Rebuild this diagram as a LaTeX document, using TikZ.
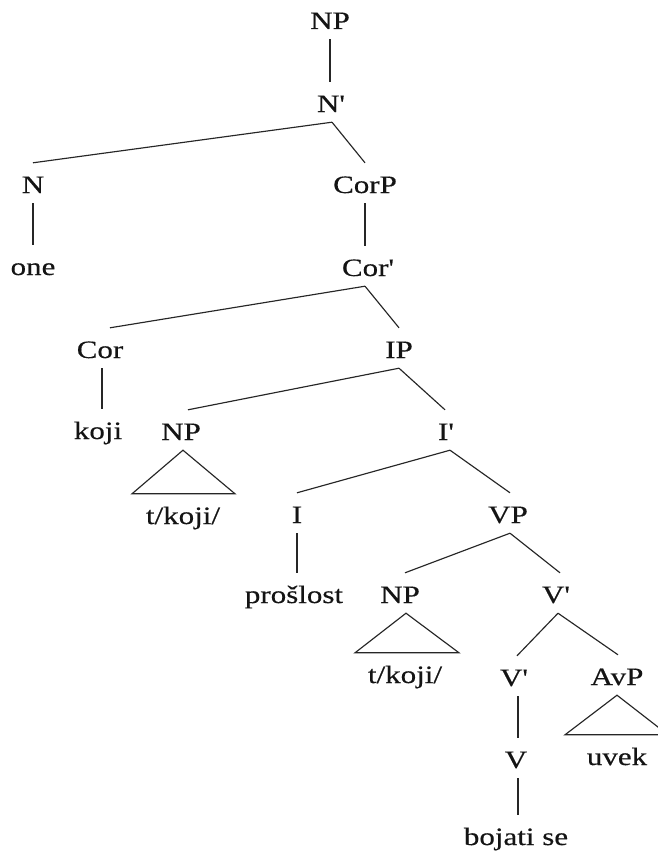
\documentclass[tikz,border=0pt]{standalone}
\usepackage{fontspec}
% no TeX ligature mapping, so ' stays a straight prime
\newfontfamily\treefont{Liberation Serif}[FakeStretch=1.24,FakeBold=0.4]
\begin{document}
\begin{tikzpicture}[x=1pt,y=-1pt,
  lbl/.style={anchor=base, inner sep=0pt, text height=30pt, text depth=10pt,
              font=\treefont\fontsize{25}{28}\selectfont, text=black!92},
  edge/.style={line width=1.15pt, draw=black!85},
  tri/.style={line width=1.15pt, draw=black!85, line join=miter}]
\useasboundingbox (0,0) rectangle (658,859);
\fill[white] (0,0) rectangle (658,859);

% labels: positioned by their baselines
\node[lbl] (np1)  at (330,29)  {NP};
\node[lbl] (nb1)  at (331,112) {N'};
\node[lbl] (n)    at (33,193)  {N};
\node[lbl] (one)  at (33,275)  {one};
\node[lbl] (corp) at (365,193) {CorP};
\node[lbl] (corb) at (368,276) {Cor'};
\node[lbl] (cor)  at (100,358) {Cor};
\node[lbl] (koji) at (98,439)  {koji};
\node[lbl] (ip)   at (399,358) {IP};
\node[lbl] (np2)  at (181,440) {NP};
\node[lbl] (ib)   at (446,440) {I'};
\node[lbl] (tk1)  at (183,524) {t/koji/};
\node[lbl] (i)    at (297,523) {I};
\node[lbl] (vp)   at (508,523) {VP};
\node[lbl] (prs)  at (294,603) {prošlost};
\node[lbl] (np3)  at (400,603) {NP};
\node[lbl] (vb1)  at (556,603) {V'};
\node[lbl] (tk2)  at (405,683) {t/koji/};
\node[lbl] (vb2)  at (514,686) {V'};
\node[lbl] (avp)  at (617,685) {AvP};
\node[lbl] (v)    at (516,768) {V};
\node[lbl] (uvek) at (617,765) {uvek};
\node[lbl] (boj)  at (516,845) {bojati se};

% branches
\draw[edge] (np1.south) -- (np1.south |- nb1.north);
\draw[edge] ([xshift=1pt]nb1.south) -- (n.north);
\draw[edge] ([xshift=1pt]nb1.south) -- (corp.north);
\draw[edge] (n.south) -- (one.north);
\draw[edge] (corp.south) -- ([xshift=-3pt]corb.north);
\draw[edge] ([xshift=-3pt]corb.south) -- ([xshift=10pt]cor.north);
\draw[edge] ([xshift=-3pt]corb.south) -- (ip.north);
\draw[edge] ([xshift=2pt]cor.south) -- ([xshift=4pt]koji.north);
\draw[edge] (ip.south) -- ([xshift=7pt]np2.north);
\draw[edge] (ip.south) -- ([xshift=-1pt]ib.north);
\draw[edge] ([xshift=4pt]ib.south) -- (i.north);
\draw[edge] ([xshift=4pt]ib.south) -- ([xshift=2pt]vp.north);
\draw[edge] (i.south) -- ([xshift=3pt]prs.north);
\draw[edge] ([xshift=2pt]vp.south) -- ([xshift=5pt]np3.north);
\draw[edge] ([xshift=2pt]vp.south) -- ([xshift=4pt]vb1.north);
\draw[edge] ([xshift=2pt]vb1.south) -- ([xshift=3pt]vb2.north);
\draw[edge] ([xshift=2pt]vb1.south) -- ([xshift=1pt]avp.north);
\draw[edge] ([xshift=4pt]vb2.south) -- ([xshift=2pt]v.north);
\draw[edge] ([xshift=2pt]v.south) -- ([xshift=2pt]boj.north);

% triangles over unanalysed constituents
\draw[tri] ([xshift=2pt]np2.south) -- ([xshift=52pt]tk1.north) -- ([xshift=-51pt]tk1.north) -- cycle;
\draw[tri] ([xshift=6pt]np3.south) -- ([xshift=54pt]tk2.north) -- ([xshift=-50pt]tk2.north) -- cycle;
\draw[tri] (avp.south) -- ([xshift=51pt]uvek.north) -- ([xshift=-52pt]uvek.north) -- cycle;
\end{tikzpicture}
\end{document}
